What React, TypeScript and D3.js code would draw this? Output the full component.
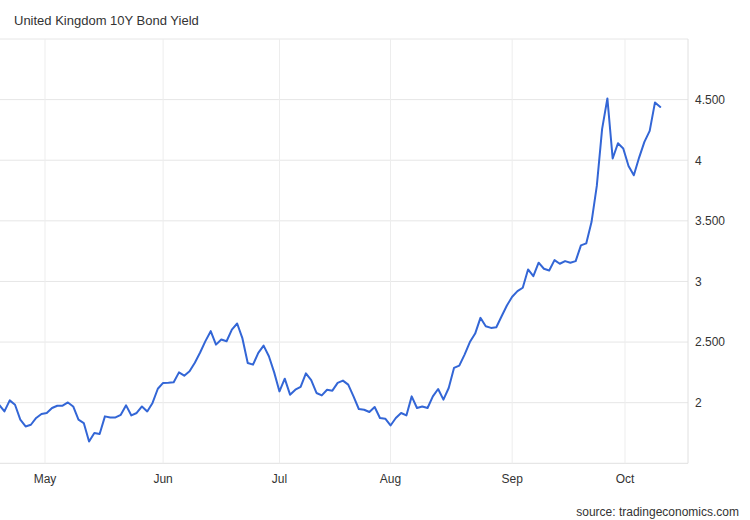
import React from "react";
import * as d3 from "d3";

// ---- Data (UK 10Y gilt yield, daily trading days from 2022-04-19) ----
const title = "United Kingdom 10Y Bond Yield";
const sourceText = "source: tradingeconomics.com";
const startDate = "2022-04-19";
const yieldValues: number[] = [
  1.983, 1.928, 2.019, 1.983, 1.86, 1.804, 1.818, 1.874, 1.907, 1.915,
  1.956, 1.975, 1.975, 2.002, 1.969, 1.86, 1.832, 1.68, 1.75, 1.741,
  1.887, 1.878, 1.878, 1.9, 1.978, 1.895, 1.915, 1.969, 1.928, 1.998,
  2.115, 2.163, 2.165, 2.168, 2.25, 2.223, 2.259, 2.33, 2.414, 2.508,
  2.59, 2.479, 2.521, 2.507, 2.603, 2.653, 2.53, 2.328, 2.314, 2.411,
  2.471, 2.383, 2.25, 2.093, 2.198, 2.066, 2.107, 2.13, 2.242, 2.186,
  2.08, 2.06, 2.107, 2.099, 2.163, 2.182, 2.149, 2.052, 1.948, 1.942,
  1.923, 1.964, 1.874, 1.868, 1.812, 1.874, 1.915, 1.895, 2.052, 1.956,
  1.969, 1.956, 2.052, 2.113, 2.025, 2.121, 2.287, 2.306, 2.397, 2.5,
  2.57, 2.7, 2.631, 2.617, 2.622, 2.713, 2.802, 2.874, 2.92, 2.948,
  3.099, 3.044, 3.155, 3.105, 3.091, 3.176, 3.146, 3.168, 3.155, 3.168,
  3.298, 3.314, 3.49, 3.788, 4.256, 4.51, 4.014, 4.14, 4.097, 3.953,
  3.876, 4.022, 4.151, 4.242, 4.477, 4.44,
];
const monthStarts = ["2022-05-01", "2022-06-01", "2022-07-01", "2022-08-01", "2022-09-01", "2022-10-01"];
const monthLabels = ["May", "Jun", "Jul", "Aug", "Sep", "Oct"];
const yTickValues = [2, 2.5, 3, 3.5, 4, 4.5];
const yTickLabels = ["2", "2.500", "3", "3.500", "4", "4.500"];
const yGridValues = [2, 2.5, 3, 3.5, 4, 4.5, 5];
const yDomain: [number, number] = [1.5, 5.0];

// trading days (weekdays) matching the value series
function tradingDays(start: string, n: number): Date[] {
  const out: Date[] = [];
  const d = new Date(start + "T00:00:00Z");
  while (out.length < n) {
    const wd = d.getUTCDay();
    if (wd !== 0 && wd !== 6) out.push(new Date(d.getTime()));
    d.setUTCDate(d.getUTCDate() + 1);
  }
  return out;
}

const days = tradingDays(startDate, yieldValues.length);

// ordinal-axis position (fractional index) of any date
function ordinalPos(date: Date): number {
  const t = date.getTime();
  for (let i = 0; i < days.length - 1; i++) {
    const a = days[i].getTime();
    const b = days[i + 1].getTime();
    if (t >= a && t <= b) return i + (t - a) / (b - a);
  }
  return days.length - 1;
}

const FONT = "'Liberation Sans', Arial, Helvetica, sans-serif";

export default function App() {
  const W = 750;
  const H = 520;
  const plot = { left: 0, right: 688, top: 39, bottom: 463.3 };

  const x = d3.scaleLinear().domain([0, 125]).range([-0.85, -0.85 + 5.289 * 125]);
  const y = d3.scaleLinear().domain(yDomain).range([plot.bottom, plot.top]);

  const line = d3
    .line<number>()
    .x((_, i) => x(i))
    .y((v) => y(v))
    .curve(d3.curveLinear);

  const monthPos = monthStarts.map((s) => ordinalPos(new Date(s + "T00:00:00Z")));

  return (
    <svg
      width={W}
      height={H}
      style={{ position: "absolute", left: 0, top: 0, background: "#fff" }}
      fontFamily={FONT}
    >
      <defs>
        <clipPath id="plotclip">
          <rect x={plot.left} y={plot.top - 5} width={plot.right - plot.left} height={plot.bottom - plot.top + 5} />
        </clipPath>
      </defs>
      <text x={14} y={25} fontSize={13} fill="#333">
        {title}
      </text>

      {/* horizontal grid */}
      {yGridValues.map((v) => (
        <line key={"h" + v} x1={plot.left} x2={plot.right} y1={y(v)} y2={y(v)} stroke="#e6e6e6" strokeWidth={1} />
      ))}
      {/* bottom axis line */}
      <line x1={plot.left} x2={plot.right} y1={plot.bottom} y2={plot.bottom} stroke="#e0e0e0" strokeWidth={1} />
      {/* vertical month grid */}
      {monthPos.map((p, i) => (
        <line key={"v" + i} x1={x(p)} x2={x(p)} y1={plot.top} y2={plot.bottom} stroke="#ededed" strokeWidth={1} />
      ))}
      {/* right border */}
      <line x1={plot.right} x2={plot.right} y1={plot.top} y2={plot.bottom} stroke="#e0e0e0" strokeWidth={1} />

      {/* y tick labels */}
      {yTickValues.map((v, i) => (
        <text key={"yt" + v} x={695} y={y(v) + 4.3} fontSize={12} fill="#333">
          {yTickLabels[i]}
        </text>
      ))}
      {/* month labels */}
      {monthPos.map((p, i) => (
        <text key={"ml" + i} x={x(p)} y={483} fontSize={12} fill="#333" textAnchor="middle">
          {monthLabels[i]}
        </text>
      ))}

      <path
        d={line(yieldValues) || ""}
        fill="none"
        stroke="#3366d6"
        strokeWidth={2}
        strokeLinejoin="round"
        strokeLinecap="round"
        clipPath="url(#plotclip)"
      />

      <text x={739} y={515.5} fontSize={12} fill="#333" textAnchor="end">
        {sourceText}
      </text>
    </svg>
  );
}
